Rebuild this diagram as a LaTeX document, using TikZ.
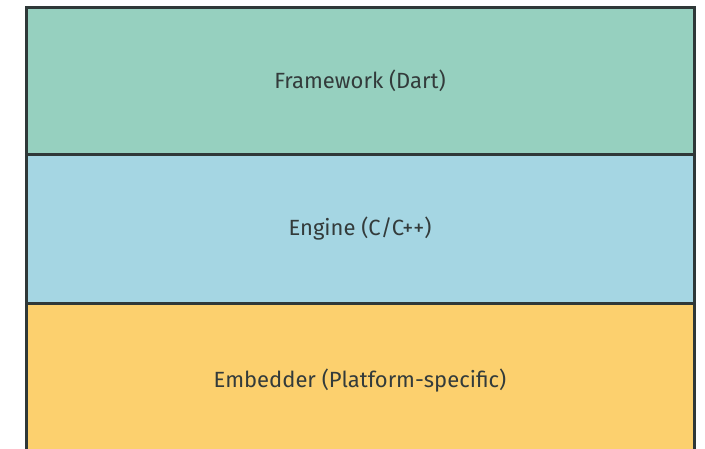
\documentclass[tikz,border=0pt]{standalone}
\usepackage{fontspec}
\setmainfont{Fira Sans}
\usepackage{xcolor}
\usetikzlibrary{positioning}

\definecolor{frameworkgreen}{HTML}{96D0BF}
\definecolor{engineblue}{HTML}{A5D6E3}
\definecolor{embedderyellow}{HTML}{FCD06E}
\definecolor{borderdark}{HTML}{2F3838}
\definecolor{textdark}{HTML}{333B3B}

\begin{document}
\begin{tikzpicture}[
  x=1pt, y=1pt,
  font=\fontsize{22}{26}\selectfont,
  layer/.style={draw=borderdark, line width=3pt, text=textdark, outer sep=0pt, inner sep=0pt, minimum width=668pt},
  dartlayer/.style={layer, fill=frameworkgreen, minimum height=147pt},
  enginelayer/.style={layer, fill=engineblue, minimum height=149pt},
  platformlayer/.style={layer, fill=embedderyellow, minimum height=156pt}
]
\useasboundingbox (0,0) rectangle (705,-448);

% Layers, top to bottom
\node[dartlayer] (framework) at (360,-80.5) {Framework (Dart)};
\node[enginelayer, below=0pt of framework] (engine) {Engine (C/C++)};
\node[platformlayer, below=0pt of engine] (embedder) {Embedder (Platform-specific)};

\end{tikzpicture}
\end{document}
